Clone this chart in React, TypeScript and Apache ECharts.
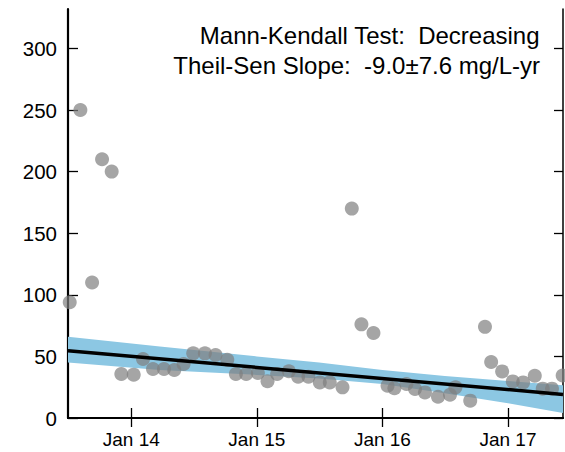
import React, { useEffect, useRef } from "react";
import * as echarts from "echarts";

// Sample dates and concentrations (mg/L)
const dates = [
  "2013-07-06", "2013-08-06", "2013-09-09", "2013-10-08", "2013-11-05", "2013-12-03",
  "2014-01-08", "2014-02-04", "2014-03-05", "2014-04-06", "2014-05-06", "2014-06-02",
  "2014-06-30", "2014-08-03", "2014-09-03", "2014-10-07", "2014-11-01", "2014-12-01",
  "2015-01-04", "2015-02-01", "2015-03-01", "2015-04-04", "2015-05-01", "2015-05-31",
  "2015-07-03", "2015-08-01", "2015-09-07", "2015-10-04", "2015-11-01", "2015-12-06",
  "2016-01-16", "2016-02-05", "2016-03-11", "2016-04-05", "2016-05-04", "2016-06-11",
  "2016-07-16", "2016-08-01", "2016-09-13", "2016-10-26", "2016-11-13", "2016-12-15",
  "2017-01-15", "2017-02-14", "2017-03-20", "2017-04-12", "2017-05-09", "2017-06-09",
];
const values = [
  94, 250, 110, 210, 200, 35.7,
  35.2, 47.9, 39.8, 39.8, 39, 43.8,
  52.5, 52.5, 51.1, 47.3, 35.7, 35.7,
  36.5, 29.8, 35.7, 37.9, 33.5, 33.5,
  28.9, 28.9, 24.9, 170, 76, 69,
  26.2, 24.1, 27.6, 23.5, 20.8, 17.3,
  18.9, 24.9, 14.1, 74, 45.5, 37.8,
  29.7, 28.9, 34.3, 23.8, 23.8, 34.5,
];

// Theil-Sen trend line
const trendDates = ["2013-07-01", "2017-06-10"];
const trendValues = [54.6, 19.1];

// Confidence band of the trend
const bandDates = ["2013-07-01", "2014-03-25", "2015-01-01", "2015-07-01", "2016-01-01", "2016-07-01", "2017-01-01", "2017-06-10"];
const bandUpper = [66, 58, 50, 45, 39, 34, 30, 26.5];
const bandLower = [45, 39, 35, 32, 27.5, 20, 12, 4];

const xMin = "2013-07-01";
const xMax = "2017-06-10";
const xTickDates = ["2014-01-01", "2015-01-01", "2016-01-01", "2017-01-01"];
const xTickLabels = ["Jan 14", "Jan 15", "Jan 16", "Jan 17"];
const yMin = 0;
const yMax = 332;
const yTicks = [0, 50, 100, 150, 200, 250, 300];

const titleLines = ["Mann-Kendall Test:  Decreasing", "Theil-Sen Slope:  -9.0\u00b17.6 mg/L-yr"];

// date string -> decimal year (Jan 1 falls exactly on an integer)
const toYear = (s: string) => {
  const [y, m, d] = s.split("-").map(Number);
  const start = Date.UTC(y, 0, 1);
  const end = Date.UTC(y + 1, 0, 1);
  return y + (Date.UTC(y, m - 1, d) - start) / (end - start);
};

const FONT = "Liberation Sans";

export default function App() {
  const ref = useRef<HTMLDivElement>(null);
  useEffect(() => {
    if (!ref.current) return;
    const chart = echarts.init(ref.current, null, { renderer: "svg" });
    const xTicks = xTickDates.map(toYear);
    const bandPts = bandDates.map((d, i) => [toYear(d), bandUpper[i], bandLower[i]]);
    const xCommon = {
      type: "value" as const,
      min: toYear(xMin),
      max: toYear(xMax),
      splitLine: { show: false },
      axisLabel: { show: false },
    };
    const yCommon = {
      type: "value" as const,
      min: yMin,
      max: yMax,
      splitLine: { show: false },
      axisLabel: { show: false },
    };
    const tick = (len: number, vals: number[]) => ({
      show: true,
      inside: true,
      length: len,
      customValues: vals,
      lineStyle: { color: "#000", width: 1.3 },
    });
    const titleGraphics = [
      {
        type: "text",
        right: 25,
        top: 23,
        z: 10,
        style: { text: titleLines[0], fontSize: 24, fontFamily: FONT, fill: "#000", align: "right" },
      },
      {
        type: "text",
        right: 25,
        top: 53,
        z: 10,
        style: { text: titleLines[1], fontSize: 24, fontFamily: FONT, fill: "#000", align: "right" },
      },
    ];
    const option: any = {
      animation: false,
      backgroundColor: "#ffffff",
      grid: { left: 68, right: 2, top: 9, bottom: 34 },
      xAxis: [
        {
          ...xCommon,
          position: "bottom",
          axisLine: { show: true, lineStyle: { color: "#000", width: 2.2 } },
          axisTick: tick(10, xTicks),
        },
        {
          ...xCommon,
          position: "top",
          axisLine: { show: true, lineStyle: { color: "#000", width: 2 } },
          axisTick: tick(9, xTicks),
        },
      ],
      yAxis: [
        {
          ...yCommon,
          position: "left",
          axisLine: { show: true, lineStyle: { color: "#000", width: 2.2 } },
          axisTick: tick(10, yTicks),
        },
        {
          ...yCommon,
          position: "right",
          axisLine: { show: true, lineStyle: { color: "#000", width: 1.5 } },
          axisTick: tick(9, yTicks),
        },
      ],
      graphic: titleGraphics,
      series: [
        {
          type: "custom",
          xAxisIndex: 0,
          yAxisIndex: 0,
          z: 1,
          silent: true,
          data: [0],
          renderItem: (_params: any, api: any) => {
            const up = bandPts.map((p) => api.coord([p[0], p[1]]));
            const lo = bandPts.map((p) => api.coord([p[0], p[2]])).reverse();
            return {
              type: "polygon",
              shape: { points: up.concat(lo) },
              style: { fill: "#8cc7e3" },
            };
          },
        },
        {
          type: "scatter",
          xAxisIndex: 0,
          yAxisIndex: 0,
          z: 2,
          symbol: "circle",
          symbolSize: 14,
          itemStyle: { color: "#7f7f7f", opacity: 0.7 },
          data: dates.map((d, i) => [toYear(d), values[i]]),
        },
        {
          type: "line",
          xAxisIndex: 0,
          yAxisIndex: 0,
          z: 3,
          symbol: "none",
          lineStyle: { color: "#000", width: 3.5 },
          data: trendDates.map((d, i) => [toYear(d), trendValues[i]]),
        },
      ],
    };
    chart.setOption(option);

    // Tick labels placed through the axes' own scales
    const x0 = chart.convertToPixel({ xAxisIndex: 0 }, toYear(xMin)) as number;
    const yBase = chart.convertToPixel({ yAxisIndex: 0 }, yMin) as number;
    const xLabelGraphics = xTicks.map((v, i) => ({
      type: "text",
      x: chart.convertToPixel({ xAxisIndex: 0 }, v) as number,
      y: yBase + 21,
      z: 10,
      style: { text: xTickLabels[i], fontSize: 19, fontFamily: FONT, fill: "#000", align: "center", verticalAlign: "middle" },
    }));
    const yLabelGraphics = yTicks.map((v) => ({
      type: "text",
      x: x0 - 11,
      y: chart.convertToPixel({ yAxisIndex: 0 }, v) as number,
      z: 10,
      style: { text: String(v), fontSize: 20.5, fontFamily: FONT, fill: "#000", align: "right", verticalAlign: "middle" },
    }));
    chart.setOption({ graphic: [...titleGraphics, ...xLabelGraphics, ...yLabelGraphics] });
    return () => chart.dispose();
  }, []);
  return (
    <div
      ref={ref}
      style={{ position: "fixed", left: 0, top: 0, width: 565, height: 452, background: "#fff" }}
    />
  );
}
